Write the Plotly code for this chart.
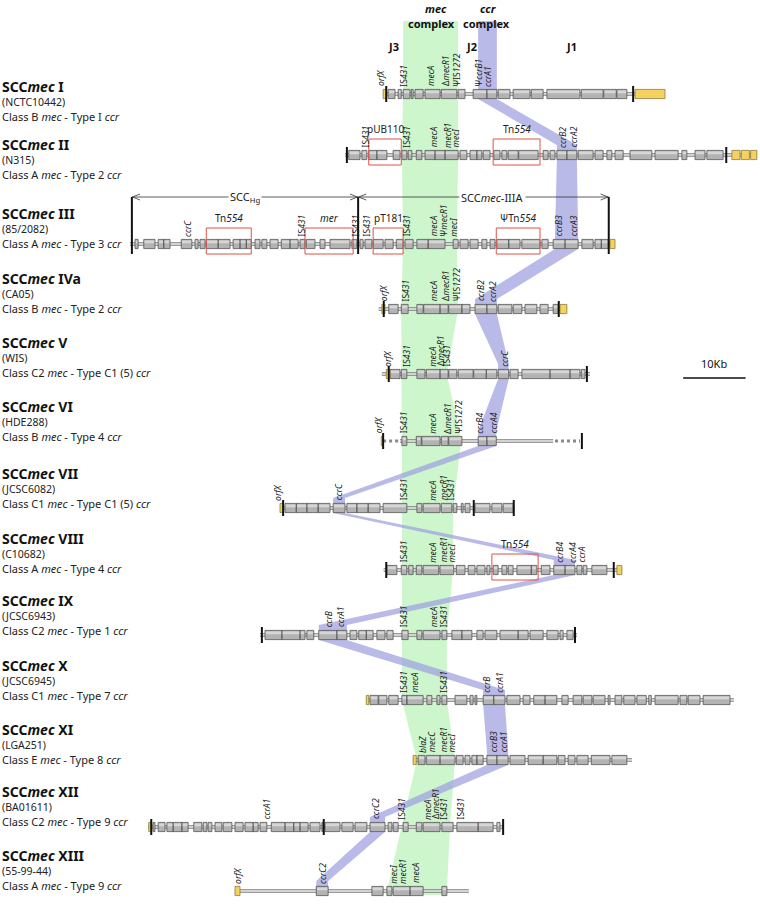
import plotly.graph_objects as go

# ---------------- data (positions in kb along the aligned maps) ----------------
types = ["I", "II", "III", "IVa", "V", "VI", "VII", "VIII", "IX", "X", "XI", "XII", "XIII"]
strains = ["NCTC10442", "N315", "85/2082", "CA05", "WIS", "HDE288", "JCSC6082",
           "C10682", "JCSC6943", "JCSC6945", "LGA251", "BA01611", "55-99-44"]
mec_class = ["B", "A", "A", "B", "C2", "B", "C1", "A", "C2", "C1", "E", "C2", "A"]
ccr_type = ["I", "2", "3", "2", "C1 (5)", "4", "C1 (5)", "4", "1", "7", "8", "9", "9"]

# mec complex band edges at each map
mec_left = [64.5, 64.3, 64.5, 64.2, 64.3, 64.3, 64.3, 64.3, 64.3, 64.3, 66.7, 64.2, 61.9]
mec_right = [73.3, 73.3, 73.1, 73.3, 71.5, 73.8, 72.5, 72.5, 71.5, 71.5, 72.8, 72.0, 71.5]
# ccr complex band edges at each map
ccr_left = [76.5, 89.1, 88.8, 76.0, 79.7, 76.5, 53.3, 88.6, 51.0, 77.3, 77.9, 59.2, 50.6]
ccr_right = [79.5, 92.3, 92.5, 79.5, 81.4, 79.4, 55.2, 92.0, 55.5, 80.8, 81.3, 61.6, 52.5]

# --- SCCmec I
genes_I = [[62.1, 63.2], [63.7, 64.2], [64.5, 65.6], [65.8, 66.1], [66.4, 67.7], [68.0, 70.4],
           [70.6, 73.1], [73.3, 74.4], [75.7, 77.9], [77.9, 79.5], [79.7, 81.6], [82.1, 84.8],
           [85.0, 86.9], [87.5, 92.8], [93.0, 96.5], [96.6, 98.6], [98.7, 100.3]]
yellow_I = [[61.3, 61.8], [101.6, 106.4]]
bars_I = [61.8, 101.3]
span_I = [61.3, 101.6]
red_I = []
labels_I = [(60.8, "<i>orfX</i>"), (64.5, "IS<i>431</i>"), (68.8, "<i>mecA</i>"),
            (71.2, "Δ<i>mecR1</i>"), (73.0, "ΨIS<i>1272</i>"), (76.5, "Ψ<i>ccrB1</i>"),
            (77.9, "<i>ccrA1</i>")]

# --- SCCmec II
genes_II = [[55.8, 57.6], [57.9, 58.7], [59.0, 60.3], [60.3, 61.9], [62.9, 64.0], [64.3, 65.1],
            [65.3, 65.9], [66.6, 67.5], [68.0, 69.6], [69.6, 71.2], [71.2, 73.3], [73.6, 74.7],
            [75.2, 76.3], [76.3, 77.1], [77.3, 78.4], [79.0, 80.0], [80.3, 81.1], [81.3, 82.9],
            [83.0, 86.1], [86.9, 87.7], [88.0, 88.8], [89.1, 90.7], [90.7, 92.3], [92.5, 94.9],
            [95.2, 96.5], [97.1, 97.9], [98.4, 99.7], [100.8, 104.3], [104.8, 108.5],
            [109.1, 109.9], [111.2, 112.8], [113.1, 115.7]]
yellow_II = [[117.1, 118.4], [118.6, 119.9], [120.1, 121.1]]
bars_II = [55.5, 116.2]
span_II = [55.2, 121.1]
red_II = [[59.0, 64.2, "pUB110"], [78.9, 86.4, "Tn<i>554</i>"]]
labels_II = [(58.4, "IS<i>431</i>"), (65.0, "IS<i>431</i>"), (69.3, "<i>mecA</i>"),
             (71.5, "<i>mecR1</i>"), (72.8, "<i>mecI</i>"), (89.9, "<i>ccrB2</i>"),
             (91.7, "<i>ccrA2</i>")]

# --- SCCmec III
genes_III = [[21.6, 22.1], [23.0, 24.8], [25.3, 26.2], [26.2, 27.2], [29.0, 30.7], [31.2, 31.7],
             [32.0, 32.8], [33.0, 34.9], [34.9, 36.8], [37.3, 38.4], [38.4, 39.4], [39.4, 40.2],
             [40.8, 41.6], [41.9, 42.7], [43.2, 44.5], [45.0, 46.4], [46.4, 47.7], [48.0, 48.8],
             [49.0, 50.4], [51.2, 52.0], [52.8, 56.0], [56.3, 57.1], [57.6, 58.1], [58.4, 59.5],
             [59.7, 61.3], [61.6, 62.9], [63.4, 64.5], [64.8, 66.1], [66.7, 68.5], [68.5, 71.2],
             [72.5, 73.3], [73.6, 74.9], [75.2, 76.5], [77.1, 77.9], [78.4, 79.2], [79.5, 81.4],
             [81.4, 83.2], [83.5, 86.4], [86.7, 87.7], [88.5, 90.4], [90.4, 92.5], [93.1, 94.9],
             [95.2, 96.2], [96.2, 97.3]]
yellow_III = [[97.6, 98.4]]
bars_III = [21.1, 57.3, 97.4]
span_III = [20.8, 98.4]
red_III = [[33.0, 40.2, "Tn<i>554</i>"], [48.8, 56.5, "<i>mer</i>"], [59.7, 64.5, "pT181"],
           [79.4, 86.4, "ΨTn<i>554</i>"]]
labels_III = [(29.9, "<i>ccrC</i>"), (48.3, "IS<i>431</i>"), (56.8, "IS<i>431</i>"),
              (58.7, "IS<i>431</i>"), (65.1, "IS<i>431</i>"), (69.3, "<i>mecA</i>"),
              (70.9, "Ψ<i>mecR1</i>"), (72.5, "<i>mecI</i>"), (89.3, "<i>ccrB3</i>"),
              (91.7, "<i>ccrA3</i>")]
scc_regions = [[21.1, 57.3, "SCC<sub>Hg</sub>"], [57.3, 97.4, "SCC<i>mec</i>-IIIA"]]

# --- SCCmec IVa
genes_IVa = [[62.2, 63.7], [64.2, 65.3], [66.7, 67.7], [67.8, 70.4], [70.4, 71.7], [71.8, 73.9],
             [73.9, 75.2], [76.0, 77.9], [77.9, 79.5], [79.7, 81.9], [82.1, 83.5], [84.0, 85.9],
             [86.4, 87.7], [88.5, 89.3]]
yellow_IVa = [[61.1, 61.6], [89.6, 90.7]]
bars_IVa = [61.4, 89.4]
span_IVa = [60.6, 90.7]
red_IVa = []
labels_IVa = [(61.3, "<i>orfX</i>"), (64.8, "IS<i>431</i>"), (69.3, "<i>mecA</i>"),
              (71.2, "Δ<i>mecR1</i>"), (73.1, "ΨIS<i>1272</i>"), (76.8, "<i>ccrB2</i>"),
              (78.7, "<i>ccrA2</i>")]

# --- SCCmec V
genes_V = [[62.4, 64.0], [64.2, 65.1], [66.7, 68.0], [68.2, 70.4], [70.4, 71.7], [71.8, 73.1],
           [73.3, 75.7], [75.8, 77.8], [77.8, 79.5], [79.7, 81.4], [81.6, 82.9], [83.5, 88.0],
           [88.0, 91.2], [91.2, 92.8], [93.0, 93.6]]
yellow_V = [[61.8, 62.4]]
bars_V = [62.2, 93.9]
span_V = [61.1, 94.4]
red_V = []
labels_V = [(61.9, "<i>orfX</i>"), (65.0, "IS<i>431</i>"), (69.1, "<i>mecA</i>"),
            (70.4, "Δ<i>mecR1</i>"), (71.5, "IS<i>431</i>"), (80.6, "<i>ccrC</i>")]

# --- SCCmec VI
genes_VI = [[64.3, 65.1], [66.6, 67.4], [67.5, 70.4], [70.6, 71.7], [71.8, 73.9], [76.5, 77.9],
            [77.9, 79.4]]
yellow_VI = [[61.0, 61.3]]
bars_VI = [61.3, 93.1]
span_VI = [64.0, 88.5]
dotted_VI = [[61.3, 64.0], [88.8, 92.8]]
red_VI = []
labels_VI = [(60.5, "<i>orfX</i>"), (64.6, "IS<i>431</i>"), (69.1, "<i>mecA</i>"),
             (71.5, "Δ<i>mecR1</i>"), (73.3, "ΨIS<i>1272</i>"), (76.6, "<i>ccrB4</i>"),
             (78.9, "<i>ccrA4</i>")]

# --- SCCmec VII
genes_VII = [[45.6, 47.4], [47.4, 49.1], [49.1, 50.9], [50.9, 52.8], [53.3, 55.2], [55.5, 57.1],
             [57.1, 58.9], [58.9, 60.8], [61.3, 65.1], [66.7, 67.5], [67.7, 70.4], [70.6, 72.3],
             [72.5, 73.1], [73.8, 74.1], [74.4, 75.2], [76.0, 78.4], [78.7, 80.3], [80.5, 82.1]]
yellow_VII = [[44.8, 45.3]]
bars_VII = [45.3, 75.8, 82.2]
span_VII = [44.8, 82.4]
red_VII = []
labels_VII = [(44.3, "<i>orfX</i>"), (54.1, "<i>ccrC</i>"), (64.6, "IS<i>431</i>"),
              (69.1, "<i>mecA</i>"), (70.9, "<i>mecR1</i>"), (72.0, "IS<i>431</i>")]

# --- SCCmec VIII
genes_VIII = [[61.9, 63.5], [64.2, 65.1], [65.4, 66.1], [66.6, 67.5], [67.7, 70.2], [70.4, 72.6],
              [73.0, 74.4], [74.9, 76.0], [76.3, 77.6], [77.9, 78.4], [78.9, 79.7], [80.3, 81.1],
              [81.3, 82.1], [82.7, 85.0], [85.0, 85.9], [86.6, 88.0], [88.6, 90.4], [90.4, 92.0],
              [92.3, 93.1], [93.3, 93.9], [94.7, 97.1]]
yellow_VIII = [[98.7, 99.5]]
bars_VIII = [61.8, 98.2]
span_VIII = [61.4, 99.5]
red_VIII = [[78.7, 86.1, "Tn<i>554</i>"]]
labels_VIII = [(64.6, "IS<i>431</i>"), (69.1, "<i>mecA</i>"), (70.9, "<i>mecR1</i>"),
               (72.3, "<i>mecI</i>"), (89.4, "<i>ccrB4</i>"), (91.5, "<i>ccrA4</i>"),
               (93.1, "<i>ccrA</i>")]

# --- SCCmec IX
genes_IX = [[42.4, 45.1], [45.1, 48.0], [48.0, 48.8], [49.1, 50.2], [51.0, 53.9], [53.9, 55.5],
            [56.0, 57.1], [57.4, 58.6], [58.6, 59.7], [60.3, 61.6], [61.9, 62.9], [64.3, 65.3],
            [66.7, 67.5], [67.7, 70.4], [70.7, 71.5], [72.3, 73.9], [73.9, 75.5], [76.3, 77.3],
            [77.6, 79.5], [80.0, 82.9], [82.9, 84.5], [84.8, 86.9], [87.5, 89.3], [89.6, 90.1],
            [90.7, 91.7]]
yellow_IX = []
bars_IX = [41.9, 92.0]
span_IX = [41.6, 92.3]
red_IX = []
labels_IX = [(52.6, "<i>ccrB</i>"), (54.4, "<i>ccrA1</i>"), (64.6, "IS<i>431</i>"),
             (69.3, "<i>mecA</i>"), (71.0, "IS<i>431</i>")]

# --- SCCmec X
genes_X = [[59.2, 60.5], [60.6, 61.9], [62.2, 63.7], [64.3, 65.1], [65.1, 67.7], [68.3, 69.1],
           [69.9, 70.4], [70.7, 71.5], [72.8, 74.7], [75.2, 75.7], [76.0, 76.3], [77.3, 79.0],
           [79.0, 80.8], [81.1, 83.2], [83.7, 84.8], [85.4, 87.2], [87.2, 89.1], [89.9, 90.9],
           [91.7, 93.1], [93.3, 94.7], [94.9, 96.8], [97.3, 97.6], [98.4, 99.5], [99.8, 101.6],
           [101.9, 103.4], [103.8, 104.2], [104.8, 108.5], [108.8, 109.9], [110.1, 112.0],
           [112.5, 116.8]]
yellow_X = [[58.6, 59.0]]
bars_X = []
span_X = [58.6, 117.4]
red_X = []
labels_X = [(64.5, "IS<i>431</i>"), (66.2, "<i>mecA</i>"), (70.9, "IS<i>431</i>"),
            (77.8, "<i>ccrB</i>"), (79.8, "<i>ccrA1</i>")]

# --- SCCmec XI
genes_XI = [[66.9, 68.0], [68.2, 70.4], [70.4, 72.8], [73.0, 74.1], [74.4, 75.2], [75.5, 76.3],
            [76.3, 77.3], [77.9, 79.5], [79.5, 81.3], [81.6, 84.0], [84.5, 86.9], [86.9, 89.1],
            [89.3, 90.4], [90.9, 92.0], [92.3, 94.1], [94.6, 97.6], [97.9, 100.3]]
yellow_XI = [[66.1, 66.6]]
bars_XI = []
span_XI = [66.1, 101.1]
red_XI = []
labels_XI = [(67.5, "<i>blaZ</i>"), (69.1, "<i>mecC</i>"), (70.9, "<i>mecR1</i>"),
             (72.3, "<i>mecI</i>"), (78.9, "<i>ccrB3</i>"), (80.5, "<i>ccrA1</i>")]

# --- SCCmec XII
genes_XII = [[24.5, 24.8], [25.3, 26.4], [26.7, 27.7], [27.7, 29.1], [29.1, 30.1], [31.0, 32.3],
             [32.5, 33.1], [33.3, 33.9], [34.4, 35.5], [35.7, 37.1], [37.6, 38.9], [39.2, 40.5],
             [40.5, 41.3], [41.6, 42.7], [43.4, 45.6], [45.6, 47.0], [47.0, 48.0], [48.0, 49.3],
             [49.6, 51.2], [51.5, 51.7], [52.0, 54.4], [54.7, 56.5], [56.8, 58.7], [59.2, 61.6],
             [62.1, 62.7], [62.9, 63.7], [64.5, 65.3], [66.6, 67.5], [67.7, 70.4], [70.7, 72.5],
             [73.1, 76.5], [76.5, 78.9], [79.5, 80.0]]
yellow_XII = [[23.8, 24.3]]
bars_XII = [24.2, 51.8, 80.5]
span_XII = [23.7, 80.5]
red_XII = []
labels_XII = [(42.6, "<i>ccrA1</i>"), (60.0, "<i>ccrC2</i>"), (64.2, "IS<i>431</i>"),
              (68.3, "<i>mecA</i>"), (69.6, "Δ<i>mecR1</i>"), (70.9, "IS<i>431</i>"),
              (73.6, "IS<i>431</i>")]

# --- SCCmec XIII
genes_XIII = [[50.6, 52.5], [59.5, 61.3], [61.9, 62.7], [62.9, 65.6], [65.6, 67.7], [70.7, 71.5]]
yellow_XIII = [[37.6, 38.4]]
bars_XIII = []
span_XIII = [37.9, 75.0]
red_XIII = []
labels_XIII = [(37.9, "<i>orfX</i>"), (51.5, "<i>ccrC2</i>"), (62.9, "<i>mecI</i>"),
               (64.3, "<i>mecR1</i>"), (66.4, "<i>mecA</i>")]

scale_bar_kb = 10

# ---------------- layout constants (page geometry) ----------------
W, H = 760, 907
KB_RANGE = [0, 121.6]
row_y = [94, 155, 244, 309, 374, 441, 508, 570, 635, 700, 760, 827, 891]
label_y = [86, 144, 213, 278, 342, 406, 473, 538, 600, 665, 729, 791, 855]
BAND_TOP, BAND_BOT = 21, 895
BOX_H = 4.6
FONT = "Noto Sans"

genes_all = [genes_I, genes_II, genes_III, genes_IVa, genes_V, genes_VI, genes_VII, genes_VIII,
             genes_IX, genes_X, genes_XI, genes_XII, genes_XIII]
yellow_all = [yellow_I, yellow_II, yellow_III, yellow_IVa, yellow_V, yellow_VI, yellow_VII,
              yellow_VIII, yellow_IX, yellow_X, yellow_XI, yellow_XII, yellow_XIII]
bars_all = [bars_I, bars_II, bars_III, bars_IVa, bars_V, bars_VI, bars_VII, bars_VIII, bars_IX,
            bars_X, bars_XI, bars_XII, bars_XIII]
span_all = [span_I, span_II, span_III, span_IVa, span_V, span_VI, span_VII, span_VIII, span_IX,
            span_X, span_XI, span_XII, span_XIII]
red_all = [red_I, red_II, red_III, red_IVa, red_V, red_VI, red_VII, red_VIII, red_IX, red_X,
           red_XI, red_XII, red_XIII]
labels_all = [labels_I, labels_II, labels_III, labels_IVa, labels_V, labels_VI, labels_VII,
              labels_VIII, labels_IX, labels_X, labels_XI, labels_XII, labels_XIII]

fig = go.Figure()

# ---- mec complex band
mx = [mec_left[0]] + mec_left + [mec_left[-1], mec_right[-1]] + mec_right[::-1] + [mec_right[0]]
my = [BAND_TOP] + row_y + [BAND_BOT, BAND_BOT] + row_y[::-1] + [BAND_TOP]
fig.add_trace(go.Scatter(x=mx, y=my, mode="lines", fill="toself", fillcolor="#cdf6cd",
                         line=dict(width=0), hoverinfo="skip"))

# ---- ccr complex band
lx, ly = [ccr_left[0]], [BAND_TOP]
rx, ry = [ccr_right[0]], [BAND_TOP]
for l, r, y in zip(ccr_left, ccr_right, row_y):
    lx += [l, l]; ly += [y - 10, y + 5]
    rx += [r, r]; ry += [y - 10, y + 5]
lx.append(ccr_left[-1]); ly.append(BAND_BOT)
rx.append(ccr_right[-1]); ry.append(BAND_BOT)
fig.add_trace(go.Scatter(x=lx + rx[::-1], y=ly + ry[::-1], mode="lines", fill="toself",
                         fillcolor="rgba(160,160,225,0.72)", line=dict(width=0), hoverinfo="skip"))

# ---- track lines
tx, ty_ = [], []
for sp, y in zip(span_all, row_y):
    tx += [sp[0], sp[1], None]; ty_ += [y, y, None]
fig.add_trace(go.Scatter(x=tx, y=ty_, mode="lines", line=dict(color="#7a7a7a", width=3.6),
                         hoverinfo="skip"))
fig.add_trace(go.Scatter(x=tx, y=ty_, mode="lines", line=dict(color="#f2f2f2", width=1.4),
                         hoverinfo="skip"))
# dotted parts (VI)
dx, dy = [], []
for seg in dotted_VI:
    dx += [seg[0], seg[1], None]; dy += [row_y[5], row_y[5], None]
fig.add_trace(go.Scatter(x=dx, y=dy, mode="lines", line=dict(color="#8a8a8a", width=3, dash="dot"),
                         hoverinfo="skip"))


def boxes(segs_rows, h, inset=0.0, top=None):
    xs, ys = [], []
    for segs, y in zip(segs_rows, row_y):
        for s in segs:
            x0, x1 = s[0] + inset, s[1] - inset
            if x1 <= x0:
                continue
            y0 = y - h
            y1 = y + h if top is None else y - top
            xs += [x0, x1, x1, x0, x0, None]
            ys += [y0, y0, y1, y1, y0, None]
    return xs, ys


# gene boxes
bx, by = boxes(genes_all, BOX_H)
fig.add_trace(go.Scatter(x=bx, y=by, mode="lines", fill="toself", fillcolor="#b3b3b3",
                         line=dict(color="#555555", width=0.8), hoverinfo="skip"))
hx, hy = boxes(genes_all, BOX_H - 1.0, inset=0.12, top=0.8)
fig.add_trace(go.Scatter(x=hx, y=hy, mode="lines", fill="toself", fillcolor="#d6d6d6",
                         line=dict(width=0), hoverinfo="skip"))
# yellow flanking chromosome
yx, yy = boxes(yellow_all, BOX_H)
fig.add_trace(go.Scatter(x=yx, y=yy, mode="lines", fill="toself", fillcolor="#f4d262",
                         line=dict(color="#8d7b33", width=0.8), hoverinfo="skip"))

# boundary bars
vx, vy = [], []
for i, (bars, y) in enumerate(zip(bars_all, row_y)):
    for b in bars:
        top = 197 if i == 2 else y - 8
        vx += [b, b, None]; vy += [top, y + 8 if i != 2 else y + 10, None]
fig.add_trace(go.Scatter(x=vx, y=vy, mode="lines", line=dict(color="#111111", width=2),
                         hoverinfo="skip"))

# red boxes (mobile elements)
annotations = []
rxs, rys = [], []
for reds, y in zip(red_all, row_y):
    for x0, x1, name in reds:
        rxs += [x0, x1, x1, x0, x0, None]
        rys += [y - 16, y - 16, y + 10, y + 10, y - 16, None]
        annotations.append(dict(x=(x0 + x1) / 2, y=y - 17, text=name, showarrow=False,
                                xanchor="center", yanchor="bottom",
                                font=dict(family=FONT, size=10, color="#222")))
fig.add_trace(go.Scatter(x=rxs, y=rys, mode="lines", line=dict(color="#e0504a", width=1),
                         hoverinfo="skip"))

# SCC region arrows in III
ax_, ay_ = [], []
AY = 197
for x0, x1, name in scc_regions:
    ax_ += [x0, x1, None, x0 + 1.3, x0 + 0.1, x0 + 1.3, None, x1 - 1.3, x1 - 0.1, x1 - 1.3, None]
    ay_ += [AY, AY, None, AY - 3, AY, AY + 3, None, AY - 3, AY, AY + 3, None]
    annotations.append(dict(x=(x0 + x1) / 2 + (1.5 if "IIIA" in name else 0), y=AY, text=name,
                            showarrow=False, xanchor="center", yanchor="middle",
                            bgcolor="white", borderpad=1,
                            font=dict(family=FONT, size=11, color="#222")))
fig.add_trace(go.Scatter(x=ax_, y=ay_, mode="lines", line=dict(color="#333", width=0.8),
                         hoverinfo="skip"))

# scale bar
sb_x0 = 109.3
fig.add_trace(go.Scatter(x=[sb_x0, sb_x0 + scale_bar_kb], y=[378, 378], mode="lines",
                         line=dict(color="#111", width=1.5), hoverinfo="skip"))
annotations.append(dict(x=sb_x0 + scale_bar_kb / 2, y=373, text="10Kb", showarrow=False,
                        xanchor="center", yanchor="bottom",
                        font=dict(family=FONT, size=11, color="#111")))

# gene labels
for labels, y in zip(labels_all, row_y):
    for x, t in labels:
        annotations.append(dict(x=x, y=y - 5.5, text=t, showarrow=False, textangle=-90,
                                xanchor="center", yanchor="bottom",
                                font=dict(family=FONT, size=8.5, color="#1a1a1a")))

# row titles
for t, s, c, k, yl in zip(types, strains, mec_class, ccr_type, label_y):
    annotations.append(dict(x=0.05, y=yl, text=f"<b>SCC<i>mec</i> {t}</b>", showarrow=False,
                            xanchor="left", yanchor="middle",
                            font=dict(family=FONT, size=14, color="#111")))
    annotations.append(dict(x=0.05, y=yl + 15.5, text=f"({s})", showarrow=False,
                            xanchor="left", yanchor="middle",
                            font=dict(family=FONT, size=10.5, color="#222")))
    annotations.append(dict(x=0.05, y=yl + 30.5,
                            text=f"Class {c} <i>mec</i> - Type {k} <i>ccr</i>", showarrow=False,
                            xanchor="left", yanchor="middle",
                            font=dict(family=FONT, size=11, color="#222")))

# headers
for x, t, y in [(69.8, "<b><i>mec</i></b>", 8), (69.0, "<b>complex</b>", 23),
                (78.2, "<b><i>ccr</i></b>", 8), (77.9, "<b>complex</b>", 23),
                (63.0, "<b>J3</b>", 46), (75.4, "<b>J2</b>", 46), (91.5, "<b>J1</b>", 46)]:
    annotations.append(dict(x=x, y=y, text=t, showarrow=False, xanchor="center",
                            yanchor="middle", font=dict(family=FONT, size=11, color="#111")))

fig.update_layout(
    width=W, height=H, margin=dict(l=0, r=0, t=0, b=0),
    paper_bgcolor="white", plot_bgcolor="white", showlegend=False,
    xaxis=dict(range=KB_RANGE, visible=False, fixedrange=True),
    yaxis=dict(range=[H, 0], visible=False, fixedrange=True),
    annotations=annotations,
)
fig.write_html("out.html", config={"displayModeBar": False},
               post_script="document.body.style.margin='0px';")
